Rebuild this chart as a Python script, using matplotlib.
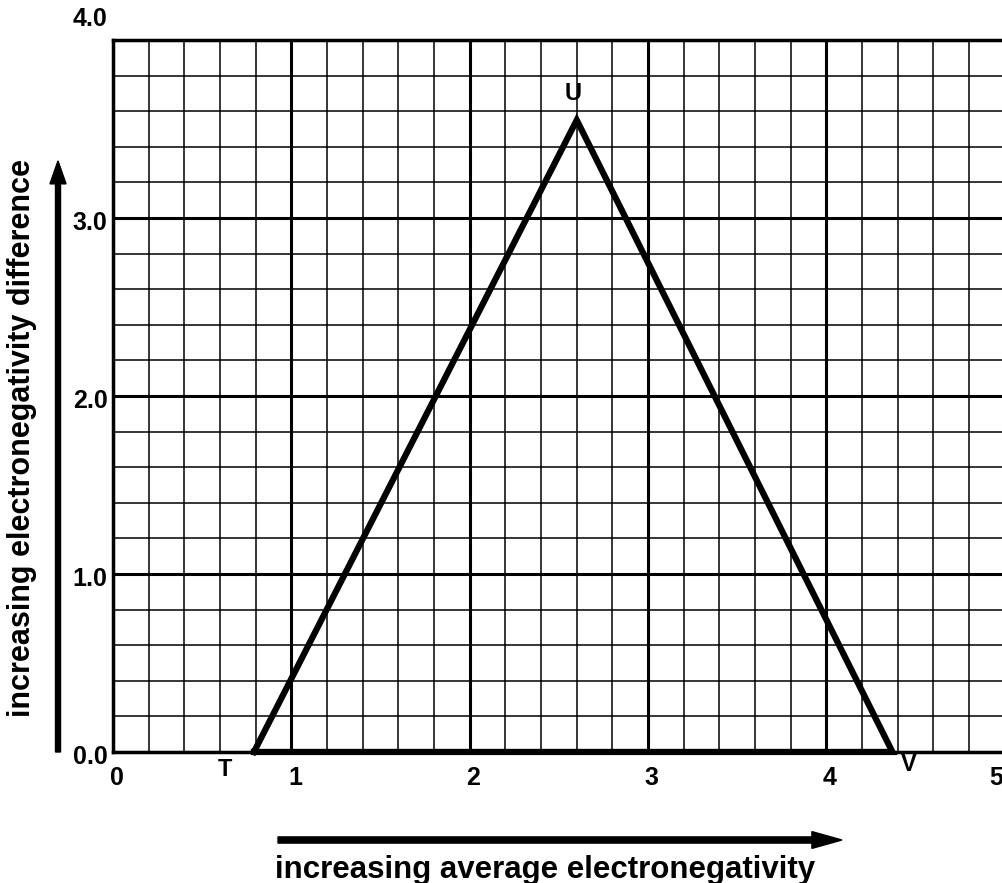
import matplotlib
matplotlib.use("Agg")
import matplotlib.pyplot as plt
import numpy as np
from matplotlib.transforms import blended_transform_factory

plt.rcParams['font.family'] = ['Liberation Sans', 'DejaVu Sans']

# data
tri_x = [0.79, 2.60, 4.37, 0.79]
tri_y = [0.0, 3.55, 0.0, 0.0]
vertex_labels = ['T', 'U', 'V']
vertex_label_x = [0.63, 2.58, 4.46]
vertex_label_y = [-0.10, 3.70, -0.07]
x_ticks = [0, 1, 2, 3, 4, 5]
x_tick_labels = ['0', '1', '2', '3', '4', '5']
y_ticks = [0.0, 1.0, 2.0, 3.0, 4.0]
y_tick_labels = ['0.0', '1.0', '2.0', '3.0', '4.0']
xlabel = 'increasing average electronegativity'
ylabel = 'increasing electronegativity difference'

fig = plt.figure(figsize=(10.03, 8.83), dpi=100)
ax = fig.add_axes([0.1127, 0.1484, 0.8873, 0.8063])
ax.set_xlim(0, 4.99)
ax.set_ylim(0, 4.0)

# grid
for xv in np.arange(0, 5.0, 0.2):
    major = abs(xv - round(xv)) < 1e-6
    ax.axvline(xv, color='black', lw=2.2 if major else 1.1, zorder=1)
for yv in np.arange(0, 4.01, 0.2):
    major = abs(yv - round(yv)) < 1e-6
    ax.axhline(yv, color='black', lw=2.2 if major else 1.1, zorder=1)

for s in ['left', 'top', 'bottom']:
    ax.spines[s].set_linewidth(2.5)
ax.spines['right'].set_visible(False)
ax.set_xticks([])
ax.set_yticks([])

# triangle
ax.plot(tri_x, tri_y, color='black', lw=4.5, solid_joinstyle='miter', zorder=3, clip_on=False)

# vertex labels
for lab, lx, ly in zip(vertex_labels, vertex_label_x, vertex_label_y):
    ax.text(lx, ly, lab, fontsize=17, fontweight='bold', ha='center', va='center', clip_on=False)

# x tick labels
for xt, lab in zip(x_ticks, x_tick_labels):
    if xt < 5:
        ax.text(xt + 0.02, -0.145, lab, fontsize=18, fontweight='bold', ha='center',
                va='center', clip_on=False)
    else:
        ax.text(xt - 0.01, -0.145, lab, fontsize=18, fontweight='bold', ha='right',
                va='center', clip_on=False)

# y tick labels
trans = blended_transform_factory(ax.transAxes, ax.transData)
for yt, lab in zip(y_ticks, y_tick_labels):
    yy = yt - 0.03 if yt < 4 else yt + 0.12
    ax.text(-0.006, yy, lab, fontsize=18, fontweight='bold', ha='right', va='center',
            transform=trans, clip_on=False)

# arrows
fig.patches.append(matplotlib.patches.FancyArrow(
    58 / 1003, (883 - 752) / 883, 0, (752 - 160) / 883 - 0.001,
    width=0.005, head_width=0.016, head_length=0.026, length_includes_head=True,
    color='black', transform=fig.transFigure))
fig.patches.append(matplotlib.patches.FancyArrow(
    278 / 1003, (883 - 840) / 883, (842 - 278) / 1003, 0,
    width=0.007, head_width=0.019, head_length=0.03, length_includes_head=True,
    color='black', transform=fig.transFigure))

fig.text(545 / 1003, (883 - 870) / 883, xlabel, fontsize=22.5, fontweight='bold',
         ha='center', va='center')
fig.text(22 / 1003, (883 - 438) / 883, ylabel, fontsize=22, fontweight='bold',
         ha='center', va='center', rotation=90)

fig.savefig('out.png', dpi=100)
